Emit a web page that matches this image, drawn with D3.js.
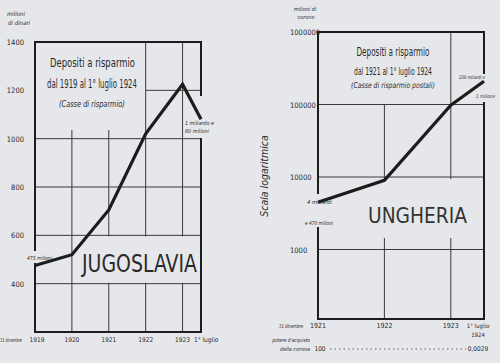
<!DOCTYPE html>
<html>
<head>
<meta charset="utf-8">
<script src="https://cdn.jsdelivr.net/npm/d3@7"></script>
<style>
body { margin: 0; background: #e6e7ea; }
svg text { font-family: "Liberation Sans Narrow", "DejaVu Sans Condensed", sans-serif; fill: #2a2a2a; }
.it { font-style: italic; }
</style>
</head>
<body>
<svg id="chart" width="500" height="363"></svg>
<script>
// Jugoslavia - depositi (milioni di dinari), al 31 dicembre e al 1 luglio 1924
var jugoLabels = ["1919", "1920", "1921", "1922", "1923", "1° luglio"];
var jugoPos = [0, 1, 2, 3, 4, 4.5];
var jugoValues = [475, 520, 705, 1020, 1225, 1080];
var jugoTicks = [400, 600, 800, 1000, 1200, 1400];

// Ungheria - depositi (milioni di corone), scala logaritmica
var ungLabels = ["1921", "1922", "1923", "1° luglio"];
var ungPos = [0, 1, 2, 2.5];
var ungValues = [4470, 9000, 98000, 209001];
var ungTicks = [1000, 10000, 100000, 1000000];
var potere = ["100", "0,0029"];

var bg = "#e6e7ea", ink = "#1c1c1c", grid = "#3a3a3a";
var svg = d3.select("#chart");

// hand lettering is narrow: squeeze a text horizontally to a given width
function label(g, str, x, y, size, w, opts) {
    opts = opts || {};
    var t = g.append("text").text(str).attr("x", 0).attr("y", 0)
        .attr("font-size", size)
        .attr("text-anchor", opts.anchor || "start");
    if (opts.italic) t.attr("class", "it");
    if (opts.fill) t.style("fill", opts.fill);
    var n = t.node().getComputedTextLength();
    var s = w ? w / n : 1;
    t.attr("transform", "translate(" + x + "," + y + ") scale(" + s + ",1)");
    return t;
}

//----- left chart
var x1 = d3.scaleLinear().domain([0, 4.5]).range([35, 201]);
var y1 = d3.scaleLinear().domain([200, 1400]).range([332, 42]);
var g1 = svg.append("g");

g1.selectAll(".h").data([400, 600, 800, 1000]).enter().append("line")
    .attr("x1", x1(0)).attr("x2", x1(4.5))
    .attr("y1", d => y1(d)).attr("y2", d => y1(d))
    .attr("stroke", grid).attr("stroke-width", 1);
g1.append("line").attr("x1", x1(3)).attr("x2", x1(4.5))
    .attr("y1", y1(1200)).attr("y2", y1(1200)).attr("stroke", grid);
g1.selectAll(".v").data([1, 2, 3, 4]).enter().append("line")
    .attr("x1", d => x1(d)).attr("x2", d => x1(d))
    .attr("y1", d => d < 3 ? 130 : y1(1400)).attr("y2", y1(200))
    .attr("stroke", grid);

// box behind the country name
g1.append("rect").attr("x", x1(1.15)).attr("y", y1(600) + 1)
    .attr("width", x1(4.5) - x1(1.15) - 1).attr("height", y1(400) - y1(600) - 2)
    .attr("fill", bg);
label(g1, "JUGOSLAVIA", 82, 272, 24, 115);

g1.append("rect").attr("x", x1(0)).attr("y", y1(1400))
    .attr("width", x1(4.5) - x1(0)).attr("height", y1(200) - y1(1400))
    .attr("fill", "none").attr("stroke", ink).attr("stroke-width", 2);
g1.append("rect").attr("x", 26).attr("y", 251).attr("width", 28).attr("height", 12).attr("fill", bg);
g1.append("rect").attr("x", 196).attr("y", 96).attr("width", 10).attr("height", 42).attr("fill", bg);

g1.append("path").datum(jugoValues)
    .attr("d", d3.line().x((d, i) => x1(jugoPos[i])).y(d => y1(d)))
    .attr("fill", "none").attr("stroke", ink).attr("stroke-width", 3.2)
    .attr("stroke-linejoin", "miter");

g1.selectAll(".yt").data(jugoTicks).enter().append("text")
    .text(d => d).attr("x", 24).attr("y", d => y1(d) + 3)
    .attr("text-anchor", "end").attr("font-size", 7.5);
g1.selectAll(".xt").data(jugoLabels).enter().append("text")
    .text(d => d)
    .attr("x", (d, i) => i == 5 ? x1(4.5) - 7 : x1(jugoPos[i]) + (i == 0 ? 2 : 0))
    .attr("y", 342)
    .attr("text-anchor", (d, i) => i == 5 ? "start" : "middle").attr("font-size", 6.5);
label(g1, "31 dicembre", 0, 342, 5.5, 22, {italic: true});
label(g1, "milioni", 7, 16, 6, 0, {italic: true});
label(g1, "di dinari", 8, 25, 6, 0, {italic: true});

label(g1, "Depositi a risparmio", 50, 67, 13, 85);
label(g1, "dal 1919 al 1° luglio 1924", 47, 88, 13, 90);
label(g1, "(Casse di risparmio)", 59, 107, 9, 66, {italic: true});
label(g1, "475 milioni", 27, 260, 5.5, 25, {italic: true});
label(g1, "1 miliardo e", 185, 125, 5.5, 29, {italic: true});
label(g1, "80 milioni", 185, 133, 5.5, 24, {italic: true});

//----- right chart
var x2 = d3.scaleLinear().domain([0, 2.5]).range([318, 484]);
var y2 = d3.scaleLog().domain([100, 1e6]).range([322, 32]);
var g2 = svg.append("g");
var bottom2 = 319;

g2.selectAll(".h").data([1000, 10000, 100000]).enter().append("line")
    .attr("x1", x2(0)).attr("x2", x2(2.5))
    .attr("y1", d => y2(d)).attr("y2", d => y2(d)).attr("stroke", grid);
g2.selectAll(".v").data([1, 2]).enter().append("line")
    .attr("x1", d => x2(d)).attr("x2", d => x2(d))
    .attr("y1", d => d < 2 ? y2(1e5) : y2(1e6)).attr("y2", bottom2)
    .attr("stroke", grid);

g2.append("rect").attr("x", 345).attr("y", y2(1e4) + 2)
    .attr("width", x2(2.5) - 346).attr("height", 238 - y2(1e4) - 2).attr("fill", bg);
label(g2, "UNGHERIA", 368, 223, 22, 99, {fill: "#333"});

g2.append("rect").attr("x", x2(0)).attr("y", y2(1e6))
    .attr("width", x2(2.5) - x2(0)).attr("height", bottom2 - y2(1e6))
    .attr("fill", "none").attr("stroke", ink).attr("stroke-width", 2);
g2.append("rect").attr("x", 300).attr("y", 194).attr("width", 36).attr("height", 33).attr("fill", bg);
g2.append("rect").attr("x", 478).attr("y", 74).attr("width", 12).attr("height", 28).attr("fill", bg);

g2.append("path").datum(ungValues)
    .attr("d", d3.line().x((d, i) => x2(ungPos[i])).y(d => y2(d)))
    .attr("fill", "none").attr("stroke", ink).attr("stroke-width", 3.2);

g2.selectAll(".yt").data(ungTicks).enter().append("text")
    .text(d => d).attr("x", 290).attr("y", d => y2(d) + 3).attr("font-size", 7.5);
g2.selectAll(".xt").data(ungLabels).enter().append("text")
    .text(d => d).attr("x", (d, i) => x2(ungPos[i]) - (i == 3 ? 6 : 0)).attr("y", 328)
    .attr("text-anchor", "middle").attr("font-size", (d, i) => i == 3 ? 6 : 7);
g2.append("text").text("1924").attr("x", x2(2.5) - 6).attr("y", 337)
    .attr("text-anchor", "middle").attr("font-size", 6);
label(g2, "31 dicembre", 303, 328, 5.5, 24, {italic: true, anchor: "end"});
label(g2, "potere d'acquisto", 310, 342, 5.5, 38, {italic: true, anchor: "end"});
label(g2, "della corona", 310, 351, 5.5, 30, {italic: true, anchor: "end"});
g2.selectAll(".pw").data(potere).enter().append("text")
    .text(d => d).attr("x", (d, i) => i == 0 ? x2(0) + 2 : x2(2.5) - 6).attr("y", 351)
    .attr("text-anchor", "middle").attr("font-size", 6.5);
g2.append("line").attr("x1", 330).attr("x2", 466).attr("y1", 349).attr("y2", 349)
    .attr("stroke", "#666").attr("stroke-dasharray", "1.5,3");

label(g2, "milioni di", 305, 11, 5.5, 0, {italic: true, anchor: "middle"});
label(g2, "corone", 306, 19, 5.5, 0, {italic: true, anchor: "middle"});
g2.append("text").attr("class", "it").text("Scala logaritmica")
    .attr("transform", "translate(268,176) rotate(-90)")
    .attr("text-anchor", "middle").attr("font-size", 10.5);

label(g2, "Depositi a risparmio", 393, 56, 12, 73, {anchor: "middle"});
label(g2, "dal 1921 al 1° luglio 1924", 393, 75, 11, 78, {anchor: "middle"});
label(g2, "(Casse di risparmio postali)", 393, 88, 8, 84, {italic: true, anchor: "middle"});
label(g2, "4 miliardi", 307, 204, 5.5, 25, {italic: true});
label(g2, "e 470 milioni", 305, 225, 5.5, 28, {italic: true});
label(g2, "209 miliardi e", 459, 79, 5, 26, {italic: true});
label(g2, "1 milione", 476, 98, 5, 19, {italic: true});
</script>
</body>
</html>
